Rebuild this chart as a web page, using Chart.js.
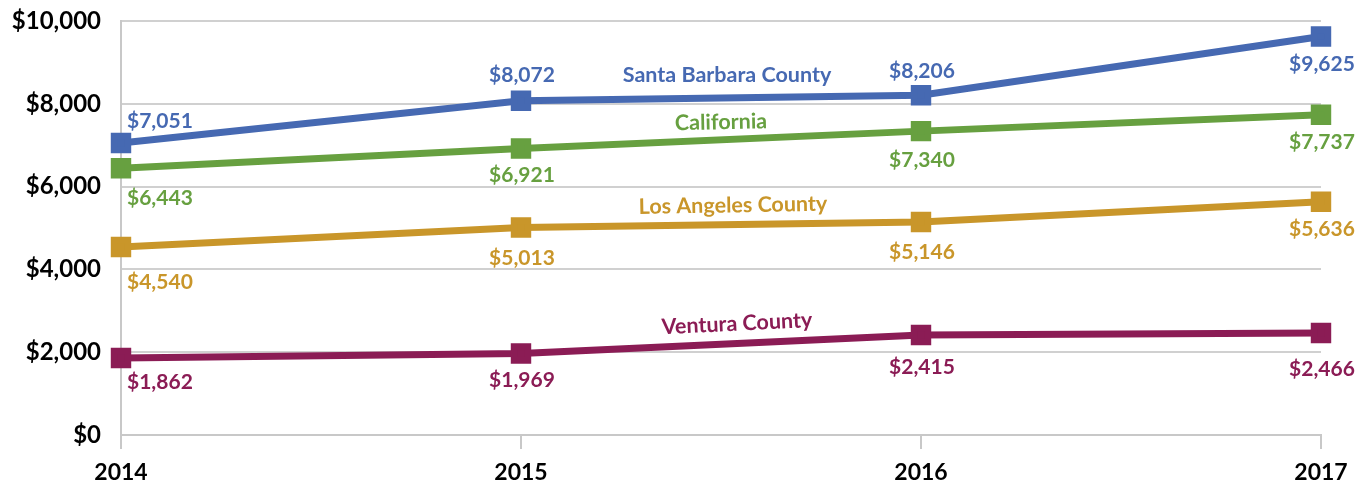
<!DOCTYPE html>
<html lang="en">
<head>
    <meta charset="UTF-8">
    <title>County Spending</title>
    <script src="https://cdn.jsdelivr.net/npm/chart.js"></script>
    <style>
        html, body { margin: 0; padding: 0; background: #fff; }
        #chart-container { width: 1367px; height: 481px; position: relative; }
    </style>
</head>
<body>
    <div id="chart-container">
        <canvas id="myChart"></canvas>
    </div>

    <script>
        const years = ['2014', '2015', '2016', '2017'];
        const santaBarbara = [7051, 8072, 8206, 9625];
        const california = [6443, 6921, 7340, 7737];
        const losAngeles = [4540, 5013, 5146, 5636];
        const ventura = [1862, 1969, 2415, 2466];
        const yTicks = [0, 2000, 4000, 6000, 8000, 10000];

        // vertical offset of each value label from its point (px), first column sits to the right
        const labelShift = {
            'Santa Barbara County': [-22, -26, -24, 28],
            'California': [30, 27, 29, 28],
            'Los Angeles County': [35, 31, 30, 28],
            'Ventura County': [24, 27, 32, 36]
        };
        // series name annotations: [x index, y value, rotation deg]
        const nameSpots = {
            'Santa Barbara County': [1.515, 8692, 0],
            'California': [1.5, 7554, -1.2],
            'Los Angeles County': [1.53, 5545, -1],
            'Ventura County': [1.54, 2688, -2.8]
        };

        const money = v => '$' + v.toLocaleString('en-US');

        const labelPlugin = {
            id: 'pointLabels',
            afterDatasetsDraw(chart) {
                const ctx = chart.ctx;
                const xs = chart.scales.x, ys = chart.scales.y;
                ctx.save();
                chart.data.datasets.forEach((ds, i) => {
                    const meta = chart.getDatasetMeta(i);
                    ctx.fillStyle = ds.borderColor;
                    ctx.textBaseline = 'middle';
                    ctx.font = 'bold 21px Lato';
                    meta.data.forEach((pt, j) => {
                        const dy = labelShift[ds.label][j];
                        if (j === 0) {
                            ctx.textAlign = 'left';
                            ctx.fillText(money(ds.data[j]), pt.x + 6, pt.y + dy);
                        } else {
                            ctx.textAlign = 'center';
                            ctx.fillText(money(ds.data[j]), pt.x + 1, pt.y + dy);
                        }
                    });
                    const ns = nameSpots[ds.label];
                    const px = xs.getPixelForValue(ns[0]);
                    const py = ys.getPixelForValue(ns[1]);
                    ctx.save();
                    ctx.translate(px, py);
                    ctx.rotate(ns[2] * Math.PI / 180);
                    ctx.textAlign = 'center';
                    ctx.font = 'bold 21.5px Lato';
                    ctx.fillText(ds.label, 0, 0);
                    ctx.restore();
                });
                ctx.restore();
            }
        };

        function series(label, data, color) {
            return {
                label: label,
                data: data,
                borderColor: color,
                backgroundColor: color,
                borderWidth: 7,
                pointStyle: 'rect',
                pointRadius: 9.5,
                pointHoverRadius: 9.5,
                tension: 0
            };
        }

        const ctx = document.getElementById('myChart').getContext('2d');
        new Chart(ctx, {
            type: 'line',
            data: {
                labels: years,
                datasets: [
                    series('Santa Barbara County', santaBarbara, '#4669b2'),
                    series('California', california, '#67a040'),
                    series('Los Angeles County', losAngeles, '#c9962a'),
                    series('Ventura County', ventura, '#8b1c55')
                ]
            },
            plugins: [labelPlugin],
            options: {
                responsive: true,
                maintainAspectRatio: false,
                animation: false,
                layout: { padding: { top: 21, right: 46, left: 0, bottom: 0 } },
                plugins: {
                    legend: { display: false },
                    tooltip: { enabled: false }
                },
                scales: {
                    x: {
                        offset: false,
                        afterFit: s => { s.height = 46; },
                        grid: {
                            drawOnChartArea: false,
                            tickLength: 14,
                            color: '#c8c8c8',
                            lineWidth: 2
                        },
                        border: { color: '#c8c8c8', width: 2 },
                        ticks: {
                            color: '#000',
                            padding: 10,
                            maxRotation: 0,
                            font: { family: 'Lato', weight: 'bold', size: 23 }
                        }
                    },
                    y: {
                        min: 0,
                        max: 10000,
                        afterFit: s => { s.width = 121; s.paddingTop = 0; s.paddingBottom = 0; },
                        afterBuildTicks: s => { s.ticks = yTicks.map(v => ({ value: v })); },
                        grid: {
                            color: '#d0d0d0',
                            lineWidth: 2,
                            drawTicks: false
                        },
                        border: { color: '#c8c8c8', width: 2 },
                        ticks: {
                            color: '#000',
                            padding: 20,
                            callback: v => money(v),
                            font: { family: 'Lato', weight: 'bold', size: 24 }
                        }
                    }
                }
            }
        });
    </script>
</body>
</html>
